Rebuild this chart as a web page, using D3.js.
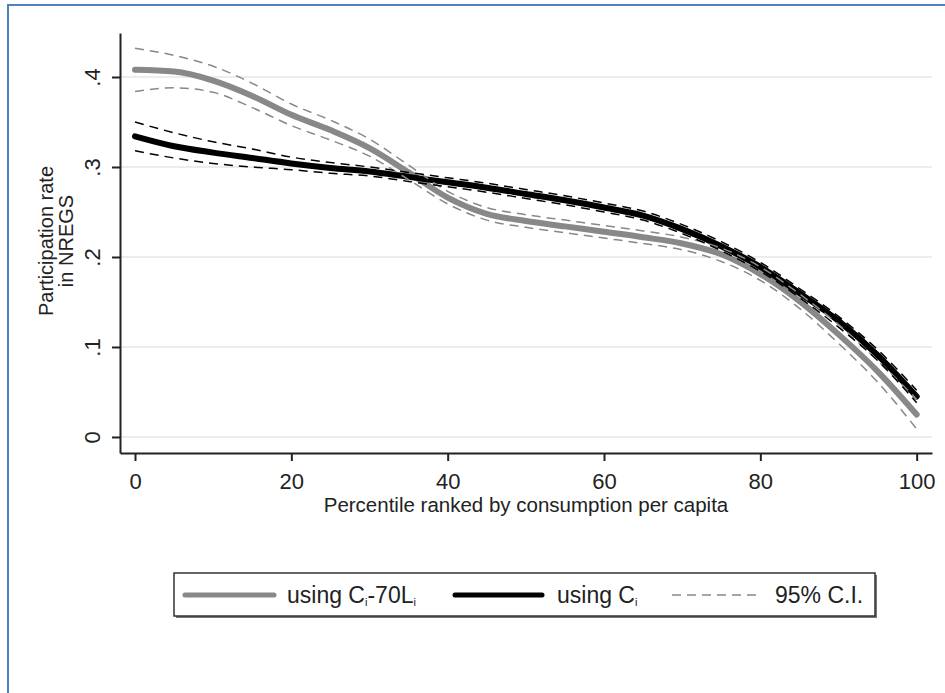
<!DOCTYPE html>
<html>
<head>
<meta charset="utf-8">
<script src="https://cdn.jsdelivr.net/npm/d3@7"></script>
<style>
  body { margin: 0; background: #fff; }
  svg { display: block; font-family: "Liberation Sans", Arial, sans-serif; }
</style>
</head>
<body>
<svg id="chart"></svg>
<script>
// percentile grid
let pct = [0, 5, 10, 15, 20, 25, 30, 35, 40, 45, 50, 55, 60, 65, 70, 75, 80, 85, 90, 95, 100];

// using C_i - 70 L_i (gray)
let grayFit   = [.408, .406, .396, .379, .358, .341, .321, .294, .266, .248, .240, .234, .228, .222, .215, .203, .181, .151, .114, .073, .025];
let grayUpper = [.432, .424, .412, .393, .370, .352, .331, .302, .273, .255, .247, .241, .235, .229, .222, .210, .189, .159, .125, .085, .042];
let grayLower = [.384, .388, .383, .366, .346, .330, .312, .286, .259, .241, .233, .227, .221, .215, .208, .195, .174, .143, .104, .061, .009];

// using C_i (black)
let blackFit   = [.334, .323, .316, .310, .304, .299, .295, .289, .283, .277, .270, .263, .255, .246, .231, .212, .189, .160, .129, .091, .045];
let blackUpper = [.350, .338, .328, .320, .311, .305, .300, .294, .288, .282, .275, .268, .260, .251, .236, .217, .194, .165, .134, .097, .052];
let blackLower = [.318, .310, .304, .300, .297, .293, .290, .284, .278, .272, .265, .258, .250, .241, .226, .207, .184, .155, .122, .085, .038];

let xTicks = [0, 20, 40, 60, 80, 100];
let yTicks = [0, .1, .2, .3, .4];
let yTickLabels = ['0', '.1', '.2', '.3', '.4'];

let width = 945;
let height = 693;

let svg = d3.select('#chart')
    .attr('width', width)
    .attr('height', height);

// outer frame (blue, top + left only visible)
svg.append('path')
   .attr('d', 'M8,' + height + ' L8,5 L' + width + ',5')
   .attr('fill', 'none')
   .attr('stroke', '#4f81bd')
   .attr('stroke-width', 2);

let xScale = d3.scaleLinear().domain([-1.92, 101.96]).range([120, 932]);
let yScale = d3.scaleLinear().domain([-0.0178, 0.4489]).range([453, 33]);

// gridlines
svg.append('g')
   .selectAll('line')
   .data(yTicks)
   .join('line')
   .attr('x1', 121).attr('x2', 932)
   .attr('y1', d => yScale(d)).attr('y2', d => yScale(d))
   .attr('stroke', '#e6e6e6')
   .attr('stroke-width', 1.5);

// axes
let xAxis = d3.axisBottom(xScale).tickValues(xTicks).tickSizeInner(8).tickSizeOuter(0);
let yAxis = d3.axisLeft(yScale).tickValues(yTicks).tickSizeInner(8).tickSizeOuter(0)
              .tickFormat((d, i) => yTickLabels[i]);

let gx = svg.append('g').attr('transform', 'translate(0,453)').call(xAxis);
let gy = svg.append('g').attr('transform', 'translate(120,0)').call(yAxis);

[gx, gy].forEach(g => {
    g.select('.domain').attr('stroke', '#222').attr('stroke-width', 2);
    g.selectAll('.tick line').attr('stroke', '#222').attr('stroke-width', 2);
    g.selectAll('.tick text').attr('fill', '#222').attr('font-size', 22)
     .attr('font-family', '"Liberation Sans", Arial, sans-serif');
});
gx.selectAll('.tick text').attr('dy', null).attr('y', 36);
gy.selectAll('.tick text')
  .attr('x', null).attr('dy', null)
  .attr('text-anchor', 'middle')
  .attr('transform', 'translate(-20,0) rotate(-90)');

// axis titles
svg.append('text')
   .attr('x', 526).attr('y', 512)
   .attr('text-anchor', 'middle')
   .attr('font-size', 20.5)
   .attr('fill', '#222')
   .text('Percentile ranked by consumption per capita');

let yTitle = svg.append('text')
   .attr('transform', 'translate(53,241) rotate(-90)')
   .attr('text-anchor', 'middle')
   .attr('font-size', 20)
   .attr('fill', '#222');
yTitle.append('tspan').attr('x', 0).attr('y', 0).text('Participation rate');
yTitle.append('tspan').attr('x', 0).attr('y', 20).text('in NREGS');

// curves
let lineOf = arr => d3.line()
    .x((d, i) => xScale(pct[i]))
    .y(d => yScale(d))
    .curve(d3.curveMonotoneX)(arr);

let plot = svg.append('g');

plot.append('path').attr('d', lineOf(grayFit))
    .attr('fill', 'none').attr('stroke', '#888').attr('stroke-width', 6).attr('stroke-linecap', 'round');
plot.append('path').attr('d', lineOf(blackFit))
    .attr('fill', 'none').attr('stroke', '#000').attr('stroke-width', 6).attr('stroke-linecap', 'round');

[[grayUpper, '#888'], [grayLower, '#888'], [blackUpper, '#000'], [blackLower, '#000']].forEach(s => {
    plot.append('path').attr('d', lineOf(s[0]))
        .attr('fill', 'none').attr('stroke', s[1]).attr('stroke-width', 1.5)
        .attr('stroke-dasharray', '9,6');
});

// legend
let legend = svg.append('g');
legend.append('rect')
      .attr('x', 176).attr('y', 575).attr('width', 701).attr('height', 43)
      .attr('fill', '#777');
legend.append('rect')
      .attr('x', 174).attr('y', 573).attr('width', 701).attr('height', 43)
      .attr('fill', '#fff').attr('stroke', '#333').attr('stroke-width', 1.5);

legend.append('line').attr('x1', 185).attr('x2', 274).attr('y1', 595).attr('y2', 595)
      .attr('stroke', '#888').attr('stroke-width', 5).attr('stroke-linecap', 'round');
legend.append('line').attr('x1', 455).attr('x2', 542).attr('y1', 595).attr('y2', 595)
      .attr('stroke', '#000').attr('stroke-width', 5).attr('stroke-linecap', 'round');
legend.append('line').attr('x1', 672).attr('x2', 762).attr('y1', 595).attr('y2', 595)
      .attr('stroke', '#888').attr('stroke-width', 1.5).attr('stroke-dasharray', '9,6');

let t1 = legend.append('text').attr('x', 287).attr('y', 603).attr('font-size', 23).attr('fill', '#222');
t1.append('tspan').text('using C');
t1.append('tspan').attr('font-size', 11).attr('dy', 3).text('i');
t1.append('tspan').attr('dy', -3).text('-70L');
t1.append('tspan').attr('font-size', 11).attr('dy', 3).text('i');

let t2 = legend.append('text').attr('x', 557).attr('y', 603).attr('font-size', 23).attr('fill', '#222');
t2.append('tspan').text('using C');
t2.append('tspan').attr('font-size', 11).attr('dy', 3).text('i');

legend.append('text').attr('x', 775).attr('y', 603).attr('font-size', 23).attr('fill', '#222')
      .text('95% C.I.');
</script>
</body>
</html>
